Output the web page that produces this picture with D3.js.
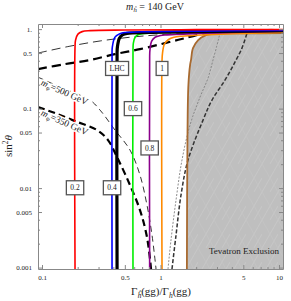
<!DOCTYPE html>
<html>
<head>
<meta charset="utf-8">
<script src="https://cdn.jsdelivr.net/npm/d3@7"></script>
<style>
  body { margin: 0; background: #fff; }
  svg { display: block; }
  text { font-family: "Liberation Serif", "DejaVu Serif", serif; fill: #222; }
</style>
</head>
<body>
<div id="chart"></div>
<script>

// contours of Gamma ratio, points are [Gamma_hhat(gg)/Gamma_h(gg), sin^2 theta]
var curve02  = [[0.19, 0.00096], [0.19, 0.6], [0.192, 0.73], [0.201, 0.865], [0.218, 0.93], [0.254, 0.957], [0.5, 0.975], [2, 0.985], [10.8, 0.99]];
var curve04  = [[0.39, 0.00096], [0.39, 0.45], [0.392, 0.594], [0.413, 0.793], [0.45, 0.87], [0.4825, 0.90], [0.7, 0.925], [2, 0.945], [10.8, 0.965]];
var curveLHC = [[0.43, 0.00096], [0.43, 0.5], [0.433, 0.6], [0.45, 0.77], [0.48, 0.85], [0.521, 0.885], [0.8, 0.91], [3, 0.935], [10.8, 0.955]];
var curve06  = [[0.586, 0.00096], [0.586, 0.55], [0.59, 0.667], [0.61, 0.79], [0.64, 0.845], [0.7, 0.875], [1.2, 0.905], [4, 0.935], [10.8, 0.95]];
var curve08  = [[0.81, 0.00096], [0.81, 0.45], [0.815, 0.55], [0.84, 0.7], [0.9, 0.79], [1.0, 0.83], [1.1, 0.845], [2, 0.88], [5, 0.915], [10.8, 0.94]];
var curve10  = [[1.03, 0.00096], [1.03, 0.4], [1.04, 0.5], [1.08, 0.65], [1.17, 0.74], [1.3, 0.79], [1.5, 0.815], [2.5, 0.85], [5, 0.885], [10.8, 0.915]];
var tevatron = [[1.67, 0.00096], [1.69, 0.05], [1.72, 0.2], [1.78, 0.36], [1.81, 0.41], [1.88, 0.577], [2.08, 0.727], [2.37, 0.83], [2.88, 0.878], [5, 0.885], [10.8, 0.89]];

// labels on the contours and where they sit (sin^2 theta)
var contourNames  = ["0.2", "0.4", "LHC", "0.6", "0.8", "1"];
var contourLabelS = [0.0101, 0.0101, 0.32, 0.1, 0.032, 0.32];

// m_phi contours (two branches each)
var mphi500Up   = [[0.0925, 0.5], [0.172, 0.61], [0.31, 0.71], [0.55, 0.79], [0.99, 0.85], [2.15, 0.915], [3.9, 0.94]];
var mphi350Up   = [[0.0925, 0.314], [0.156, 0.363], [0.254, 0.408], [0.413, 0.485], [0.671, 0.56], [1.091, 0.667], [1.61, 0.77], [2.374, 0.891]];
var mphi500Down = [[0.0925, 0.249], [0.142, 0.1864], [0.254, 0.128], [0.309, 0.0958], [0.413, 0.0537], [0.553, 0.0301], [0.671, 0.0146], [0.769, 0.00611], [0.848, 0.00256], [0.917, 0.00096]];
var mphi350Down = [[0.0925, 0.1045], [0.1287, 0.0878], [0.19, 0.0696], [0.291, 0.0537], [0.3605, 0.0402], [0.43, 0.0245], [0.553, 0.0109], [0.671, 0.00529], [0.769, 0.00242], [0.832, 0.00096]];

// the two dashed lines near the Tevatron region
var lightDashed = [[1.157, 0.00096], [1.226, 0.00222], [1.352, 0.00706], [1.518, 0.0225], [1.774, 0.062], [2.155, 0.1395], [2.517, 0.242], [2.773, 0.408], [3.0, 0.629], [3.117, 0.793], [3.18, 0.891]];
var darkDashed  = [[1.25, 0.00096], [1.352, 0.00256], [1.489, 0.00817], [1.706, 0.0225], [2.285, 0.0717], [2.72, 0.128], [3.5, 0.228], [4.25, 0.385], [4.87, 0.577], [5.37, 0.891]];

// ticks
var xMajor = [0.1, 0.5, 1, 5, 10];
var xMajorLabels = ["0.1", "0.5", "1", "5", "10"];
var yMajor = [0.001, 0.005, 0.01, 0.05, 0.1, 0.5, 1];
var yMajorLabels = ["0.001", "0.005", "0.01", "0.05", "0.1", "0.5", "1."];


var svg_w = 291, svg_h = 301;
var margin = {top: 24, left: 38};
var plot_w = 245, plot_h = 245;

var svg = d3.select("#chart").append("svg")
  .attr("width", svg_w)
  .attr("height", svg_h);

var defs = svg.append("defs");
defs.append("clipPath").attr("id", "plotclip")
  .append("rect").attr("width", plot_w).attr("height", plot_h);

// faint triangular mesh like the Mathematica region fill
var pat = defs.append("pattern")
  .attr("id", "mesh")
  .attr("patternUnits", "userSpaceOnUse")
  .attr("width", 16).attr("height", 28);
pat.append("rect").attr("width", 16).attr("height", 28).attr("fill", "#bfbfbf");
pat.append("path").attr("d", "M0,28 L16,0").attr("stroke", "#cdcdcd").attr("stroke-width", 0.6);
pat.append("path").attr("d", "M-8,14 L0,0 M8,28 L16,14").attr("stroke", "#cdcdcd").attr("stroke-width", 0.6);
pat.append("path").attr("d", "M0,0 L16,28").attr("stroke", "#c8c8c8").attr("stroke-width", 0.4);

var g = svg.append("g")
  .attr("transform", "translate(" + margin.left + "," + margin.top + ")");

var x = d3.scaleLog().domain([0.0925, 10.81]).range([0, plot_w]);
var y = d3.scaleLog().domain([0.00096, 1.16]).range([plot_h, 0]);

var line = d3.line()
  .x(function(d) { return x(d[0]); })
  .y(function(d) { return y(d[1]); })
  .curve(d3.curveCatmullRom.alpha(0.5));

var plot = g.append("g").attr("clip-path", "url(#plotclip)");

// Tevatron excluded region
var region = tevatron.concat([[10.81, 1e-4]]);
plot.append("path")
  .datum(region)
  .attr("fill", "url(#mesh)")
  .attr("stroke", "none")
  .attr("d", line);

// dashed m_phi lines
function dashed(data, w, dash, color) {
  plot.append("path")
    .datum(data)
    .attr("fill", "none")
    .attr("stroke", color || "#000")
    .attr("stroke-width", w)
    .attr("stroke-dasharray", dash)
    .attr("d", line);
}
dashed(mphi500Up, 0.8, "9,5");
dashed(mphi350Up, 2.2, "9,5");
dashed(mphi500Down, 0.8, "6,4");
dashed(mphi350Down, 2.2, "7,4");
dashed(lightDashed, 0.9, "2,1.5", "#808080");
dashed(darkDashed, 1.5, "4,2", "#333");

// contour lines
var contours = [
  {pts: curve02,  color: "#ff0000", w: 1.6},
  {pts: curve04,  color: "#0000ff", w: 1.6},
  {pts: curveLHC, color: "#000000", w: 3.2},
  {pts: curve06,  color: "#00ee00", w: 1.6},
  {pts: curve08,  color: "#8b008b", w: 1.6},
  {pts: curve10,  color: "#ff8a00", w: 1.6},
  {pts: tevatron, color: "#a86a30", w: 1.8}
];
// draw the last one first so the colored tops stack like the original
contours.slice().reverse().forEach(function(c) {
  plot.append("path")
    .datum(c.pts)
    .attr("fill", "none")
    .attr("stroke", c.color)
    .attr("stroke-width", c.w)
    .attr("d", line);
});

// m_phi labels
function mlabel(px, py, angle, txt) {
  var t = g.append("text")
    .attr("transform", "translate(" + px + "," + py + ") rotate(" + angle + ")")
    .style("font-size", "9.5px")
    .attr("stroke", "#fff")
    .attr("stroke-width", 3)
    .attr("paint-order", "stroke");
  t.append("tspan").style("font-style", "italic").text("m");
  t.append("tspan").attr("dy", 2).style("font-size", "6.5px").style("font-style", "italic").text("φ");
  t.append("tspan").attr("dy", -2).text("=" + txt + " GeV");
}
mlabel(x(0.0965), y(0.2), 24, "500");
mlabel(x(0.0965), y(0.083), 24, "350");

// boxed contour labels
contourNames.forEach(function(name, i) {
  var c = contours[i];
  var bx = x(c.pts[0][0]), by = y(contourLabelS[i]);
  var lg = g.append("g").attr("transform", "translate(" + bx + "," + by + ")");
  var r = lg.append("rect");
  var t = lg.append("text")
    .attr("text-anchor", "middle")
    .attr("dy", "0.35em")
    .style("font-size", "7.5px")
    .text(name);
  var tw = t.node().getComputedTextLength();
  r.attr("x", -tw / 2 - 4).attr("y", -7)
    .attr("width", tw + 8).attr("height", 14)
    .attr("fill", "#fff")
    .attr("stroke", "#555")
    .attr("stroke-width", 1.3);
});

g.append("text")
  .attr("x", 206)
  .attr("y", 230)
  .attr("text-anchor", "middle")
  .style("font-size", "9px")
  .text("Tevatron Exclusion");

// frame with inward ticks on all sides
function frame(axis, transform, major, labels, minorVals) {
  var ga = g.append("g").attr("transform", transform)
    .call(axis.tickValues(major).tickSizeInner(-4).tickSizeOuter(0).tickPadding(6)
      .tickFormat(function(d, i) { return labels ? labels[i] : ""; }));
  ga.selectAll("text").style("font-size", "7px").style("font-family", "Liberation Serif").attr("fill", "#333");
  var gm = g.append("g").attr("transform", transform)
    .call(axis.tickValues(minorVals).tickSizeInner(-2).tickSizeOuter(0).tickFormat(""));
  gm.select(".domain").remove();
  g.selectAll(".domain").attr("stroke", "#888");
  g.selectAll(".tick line").attr("stroke", "#888");
}
var xMinor = x.ticks().filter(function(d) { return xMajor.indexOf(d) < 0; });
var yMinor = y.ticks().filter(function(d) { return yMajor.indexOf(+d.toPrecision(3)) < 0; });

frame(d3.axisBottom(x), "translate(0," + plot_h + ")", xMajor, xMajorLabels, xMinor);
frame(d3.axisTop(x), "translate(0,0)", xMajor, null, xMinor);
frame(d3.axisLeft(y), "translate(0,0)", yMajor, yMajorLabels, yMinor);
frame(d3.axisRight(y), "translate(" + plot_w + ",0)", yMajor, null, yMinor);

// title
var title = svg.append("text")
  .attr("x", 155).attr("y", 10)
  .attr("text-anchor", "middle")
  .style("font-size", "10px");
title.append("tspan").style("font-style", "italic").text("m");
title.append("tspan").attr("dy", 2).style("font-size", "7px").style("font-style", "italic").text("ĥ");
title.append("tspan").attr("dy", -2).text(" = 140 GeV");

// x label
var xl = svg.append("text")
  .attr("x", 161).attr("y", 295)
  .attr("text-anchor", "middle")
  .style("font-size", "11px");
xl.append("tspan").text("Γ");
xl.append("tspan").attr("dy", 2.5).style("font-size", "7.5px").style("font-style", "italic").text("ĥ");
xl.append("tspan").attr("dy", -2.5).text("(gg)/Γ");
xl.append("tspan").attr("dy", 2.5).style("font-size", "7.5px").style("font-style", "italic").text("h");
xl.append("tspan").attr("dy", -2.5).text("(gg)");

// y label
var yl = svg.append("text")
  .attr("transform", "translate(12,146) rotate(-90)")
  .attr("text-anchor", "middle")
  .style("font-size", "11px");
yl.append("tspan").text("sin");
yl.append("tspan").attr("dy", -4).style("font-size", "7.5px").text("2");
yl.append("tspan").attr("dy", 4).style("font-style", "italic").text("θ");

</script>
</body>
</html>
